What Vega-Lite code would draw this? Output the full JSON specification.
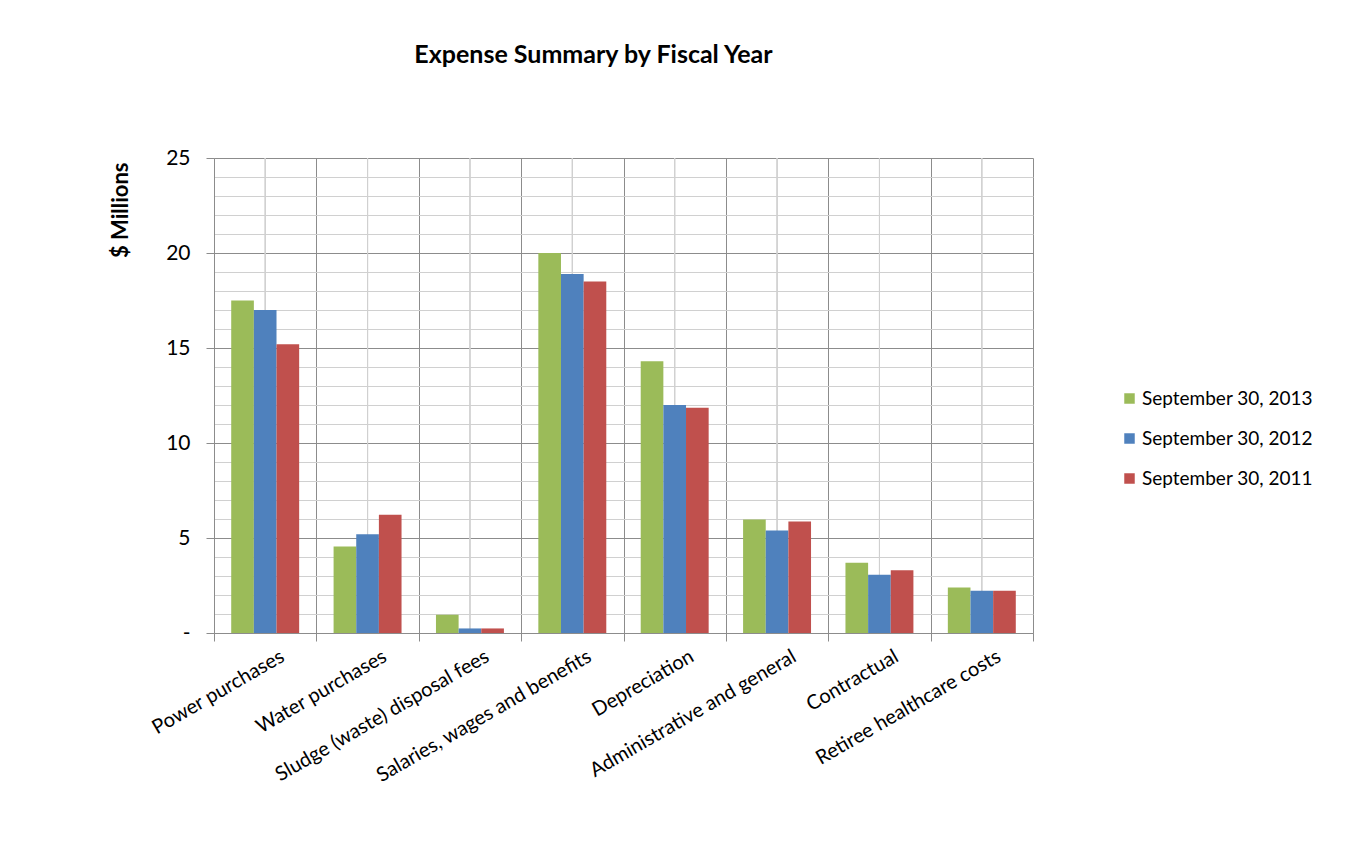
{
  "$schema": "https://vega.github.io/schema/vega-lite/v6.json",
  "width": 819,
  "height": 475,
  "autosize": {"type": "none"},
  "padding": {"left": 214, "top": 158, "right": 336, "bottom": 234},
  "background": "white",
  "config": {
    "view": {"stroke": null},
    "font": "Lato"
  },
  "title": {
    "text": "Expense Summary by Fiscal Year",
    "font": "Lato",
    "fontSize": 25,
    "fontWeight": "bold",
    "color": "#000000",
    "anchor": "middle",
    "dx": -30,
    "offset": 79
  },
  "data": {
    "values": [
      {"category": "Power purchases", "series": "September 30, 2013", "value": 17.5},
      {"category": "Power purchases", "series": "September 30, 2012", "value": 17.0},
      {"category": "Power purchases", "series": "September 30, 2011", "value": 15.2},
      {"category": "Water purchases", "series": "September 30, 2013", "value": 4.55},
      {"category": "Water purchases", "series": "September 30, 2012", "value": 5.2},
      {"category": "Water purchases", "series": "September 30, 2011", "value": 6.22},
      {"category": "Sludge (waste) disposal fees", "series": "September 30, 2013", "value": 0.96},
      {"category": "Sludge (waste) disposal fees", "series": "September 30, 2012", "value": 0.24},
      {"category": "Sludge (waste) disposal fees", "series": "September 30, 2011", "value": 0.24},
      {"category": "Salaries, wages and benefits", "series": "September 30, 2013", "value": 20.0},
      {"category": "Salaries, wages and benefits", "series": "September 30, 2012", "value": 18.9},
      {"category": "Salaries, wages and benefits", "series": "September 30, 2011", "value": 18.5},
      {"category": "Depreciation", "series": "September 30, 2013", "value": 14.3},
      {"category": "Depreciation", "series": "September 30, 2012", "value": 12.0},
      {"category": "Depreciation", "series": "September 30, 2011", "value": 11.86},
      {"category": "Administrative and general", "series": "September 30, 2013", "value": 5.97},
      {"category": "Administrative and general", "series": "September 30, 2012", "value": 5.4},
      {"category": "Administrative and general", "series": "September 30, 2011", "value": 5.87},
      {"category": "Contractual", "series": "September 30, 2013", "value": 3.7},
      {"category": "Contractual", "series": "September 30, 2012", "value": 3.06},
      {"category": "Contractual", "series": "September 30, 2011", "value": 3.3},
      {"category": "Retiree healthcare costs", "series": "September 30, 2013", "value": 2.4},
      {"category": "Retiree healthcare costs", "series": "September 30, 2012", "value": 2.23},
      {"category": "Retiree healthcare costs", "series": "September 30, 2011", "value": 2.23}
    ]
  },
  "layer": [
    {
      "mark": {"type": "rule", "color": "#d0d0d0", "strokeWidth": 1},
      "encoding": {
        "x": {"field": "category", "type": "nominal", "sort": null}
      }
    },
    {
      "mark": {"type": "bar"},
      "encoding": {
        "x": {
          "field": "category",
          "type": "nominal",
          "sort": null,
          "scale": {"paddingInner": 0, "paddingOuter": 0},
          "axis": {
            "title": null,
            "tickBand": "extent",
            "grid": true,
            "gridColor": "#8c8c8c",
            "gridWidth": 1,
            "domainColor": "#8c8c8c",
            "tickColor": "#8c8c8c",
            "tickSize": 8,
            "labelAngle": -30,
            "labelAlign": "right",
            "labelBaseline": "top",
            "labelFont": "Lato",
            "labelFontSize": 20,
            "labelColor": "#000000",
            "labelPadding": 5,
            "labelOffset": 12,
            "labelLimit": 400
          }
        },
        "xOffset": {
          "field": "series",
          "type": "nominal",
          "sort": ["September 30, 2013", "September 30, 2012", "September 30, 2011"],
          "scale": {"paddingInner": 0, "paddingOuter": 0.76}
        },
        "y": {
          "field": "value",
          "type": "quantitative",
          "scale": {"domain": [0, 25], "nice": false},
          "axis": {
            "title": "$ Millions",
            "titleFont": "Lato",
            "titleFontSize": 22,
            "titleFontWeight": "bold",
            "titleColor": "#000000",
            "titleAnchor": "end",
            "titlePadding": 33,
            "titleY": 4,
            "values": [0, 1, 2, 3, 4, 5, 6, 7, 8, 9, 10, 11, 12, 13, 14, 15, 16, 17, 18, 19, 20, 21, 22, 23, 24, 25],
            "grid": true,
            "gridColor": {"condition": {"test": "datum.value % 5 === 0", "value": "#8c8c8c"}, "value": "#d0d0d0"},
            "gridWidth": 1,
            "domainColor": "#8c8c8c",
            "tickColor": {"condition": {"test": "datum.value % 5 === 0", "value": "#8c8c8c"}, "value": "transparent"},
            "tickSize": 8,
            "labelExpr": "datum.value === 0 ? '-\u00a0\u00a0\u00a0\u00a0\u00a0\u00a0\u00a0' : (datum.value % 5 === 0 ? datum.label : '')",
            "labelFont": "Lato",
            "labelFontSize": 21,
            "labelColor": "#000000",
            "labelPadding": 16
          }
        },
        "color": {
          "field": "series",
          "type": "nominal",
          "scale": {
            "domain": ["September 30, 2013", "September 30, 2012", "September 30, 2011"],
            "range": ["#9BBB59", "#4F81BD", "#C0504D"]
          },
          "legend": {
            "title": null,
            "orient": "none",
            "legendX": 906,
            "legendY": 231,
            "symbolType": "square",
            "symbolSize": 110,
            "symbolStrokeWidth": 0,
            "labelFont": "Lato",
            "labelFontSize": 19,
            "labelColor": "#000000",
            "labelLimit": 300,
            "rowPadding": 20,
            "labelOffset": 3
          }
        }
      }
    }
  ]
}
